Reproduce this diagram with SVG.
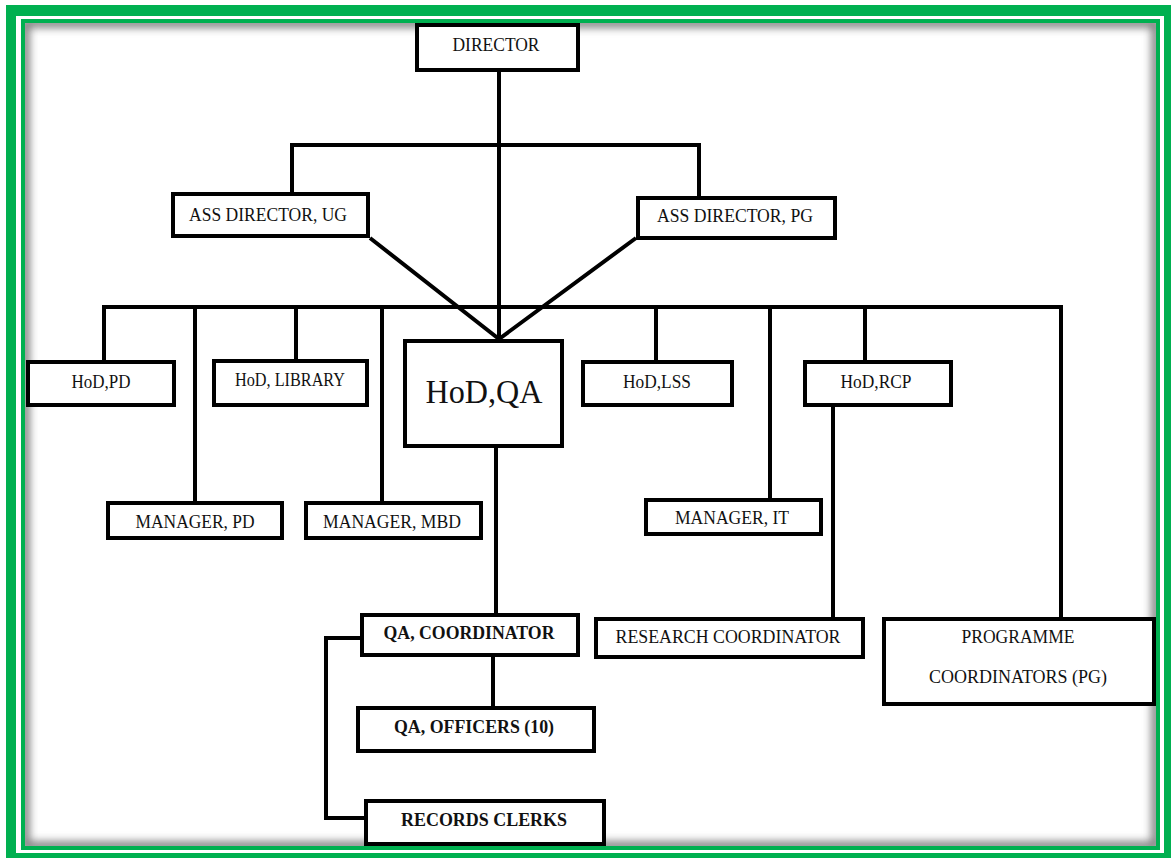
<svg xmlns="http://www.w3.org/2000/svg" width="1171" height="858" viewBox="0 0 1171 858">
  <style>
    .box { fill: #ffffff; stroke: #000000; stroke-width: 4; }
    .lbl { font-family: "Liberation Serif", "Times New Roman", serif; font-size: 18px; fill: #111111; text-anchor: middle; }
    .bold { font-weight: bold; }
    .big { font-size: 33px; }
    .wire { fill: none; stroke: #000000; stroke-width: 4; stroke-linejoin: miter; }
  </style>
  <defs>
    <clipPath id="pageClip">
      <rect x="25" y="23" width="1131" height="823"/>
    </clipPath>
    <filter id="soft" x="-5%" y="-5%" width="110%" height="110%">
      <feGaussianBlur stdDeviation="4"/>
    </filter>
  </defs>

  <!-- double green frame -->
  <rect x="0" y="0" width="1171" height="858" fill="#ffffff"/>
  <rect x="6" y="5" width="1170" height="860" fill="#00b050"/>
  <rect x="16" y="16" width="1148" height="837" fill="#ffffff"/>
  <rect x="21" y="19" width="1139" height="831" fill="#00b050"/>
  <rect x="25" y="23" width="1131" height="823" fill="#ffffff"/>
  <g clip-path="url(#pageClip)">
    <rect x="25" y="23" width="1131" height="823" fill="none" stroke="#7a7a7a" stroke-width="9" filter="url(#soft)"/>
  </g>

  <!-- connectors -->
  <g id="connectors" class="wire">
    <path class="wire" d="M499,72 V339"/>
    <path class="wire" d="M292,192 V145 H699 V196"/>
    <path class="wire" d="M370,238 L499,339 L636,238"/>
    <path class="wire" d="M104,360 V307 H1061 V617"/>
    <path class="wire" d="M195,307 V501"/>
    <path class="wire" d="M296,307 V359"/>
    <path class="wire" d="M382,307 V501"/>
    <path class="wire" d="M656,307 V360"/>
    <path class="wire" d="M770,307 V498"/>
    <path class="wire" d="M865,307 V360"/>
    <path class="wire" d="M496,448 V613"/>
    <path class="wire" d="M833,407 V617"/>
    <path class="wire" d="M493,657 V706"/>
    <path class="wire" d="M362,638 H326 V818 H364"/>
  </g>

  <!-- nodes -->
  <g id="director">
    <rect class="box" x="417" y="25" width="161" height="45"/>
    <text class="lbl" x="496" y="51" textLength="87" lengthAdjust="spacingAndGlyphs">DIRECTOR</text>
  </g>
  <g id="ass-director-ug">
    <rect class="box" x="173" y="194" width="195" height="42"/>
    <text class="lbl" x="268" y="221" textLength="158" lengthAdjust="spacingAndGlyphs">ASS DIRECTOR, UG</text>
  </g>
  <g id="ass-director-pg">
    <rect class="box" x="638" y="198" width="197" height="40"/>
    <text class="lbl" x="735" y="222" textLength="156" lengthAdjust="spacingAndGlyphs">ASS DIRECTOR, PG</text>
  </g>
  <g id="hod-pd">
    <rect class="box" x="28" y="362" width="146" height="43"/>
    <text class="lbl" x="101" y="388" textLength="59" lengthAdjust="spacingAndGlyphs">HoD,PD</text>
  </g>
  <g id="hod-library">
    <rect class="box" x="214" y="361" width="153" height="44"/>
    <text class="lbl" x="290" y="386" textLength="110" lengthAdjust="spacingAndGlyphs">HoD, LIBRARY</text>
  </g>
  <g id="hod-qa">
    <rect class="box" x="405" y="341" width="157" height="105"/>
    <text class="lbl big" x="484" y="403" textLength="117" lengthAdjust="spacingAndGlyphs">HoD,QA</text>
  </g>
  <g id="hod-lss">
    <rect class="box" x="583" y="362" width="149" height="43"/>
    <text class="lbl" x="657" y="388" textLength="68" lengthAdjust="spacingAndGlyphs">HoD,LSS</text>
  </g>
  <g id="hod-rcp">
    <rect class="box" x="805" y="362" width="146" height="43"/>
    <text class="lbl" x="876" y="388" textLength="71" lengthAdjust="spacingAndGlyphs">HoD,RCP</text>
  </g>
  <g id="manager-pd">
    <rect class="box" x="108" y="503" width="174" height="35"/>
    <text class="lbl" x="195" y="528" textLength="119" lengthAdjust="spacingAndGlyphs">MANAGER, PD</text>
  </g>
  <g id="manager-mbd">
    <rect class="box" x="306" y="503" width="175" height="35"/>
    <text class="lbl" x="392" y="528" textLength="138" lengthAdjust="spacingAndGlyphs">MANAGER, MBD</text>
  </g>
  <g id="manager-it">
    <rect class="box" x="646" y="500" width="175" height="34"/>
    <text class="lbl" x="732" y="524" textLength="114" lengthAdjust="spacingAndGlyphs">MANAGER, IT</text>
  </g>
  <g id="qa-coordinator">
    <rect class="box" x="362" y="615" width="216" height="40"/>
    <text class="lbl bold" x="469" y="639" textLength="171" lengthAdjust="spacingAndGlyphs">QA, COORDINATOR</text>
  </g>
  <g id="research-coordinator">
    <rect class="box" x="596" y="619" width="267" height="38"/>
    <text class="lbl" x="728" y="643" textLength="225" lengthAdjust="spacingAndGlyphs">RESEARCH COORDINATOR</text>
  </g>
  <g id="programme-coordinators">
    <rect class="box" x="884" y="619" width="270" height="85"/>
    <text class="lbl" x="1018" y="643" textLength="113" lengthAdjust="spacingAndGlyphs">PROGRAMME</text>
    <text class="lbl" x="1018" y="683" textLength="178" lengthAdjust="spacingAndGlyphs">COORDINATORS (PG)</text>
  </g>
  <g id="qa-officers">
    <rect class="box" x="358" y="708" width="236" height="43"/>
    <text class="lbl bold" x="474" y="733" textLength="160" lengthAdjust="spacingAndGlyphs">QA, OFFICERS (10)</text>
  </g>
  <g id="records-clerks">
    <rect class="box" x="366" y="801" width="238" height="43"/>
    <text class="lbl bold" x="484" y="826" textLength="166" lengthAdjust="spacingAndGlyphs">RECORDS CLERKS</text>
  </g>
</svg>
